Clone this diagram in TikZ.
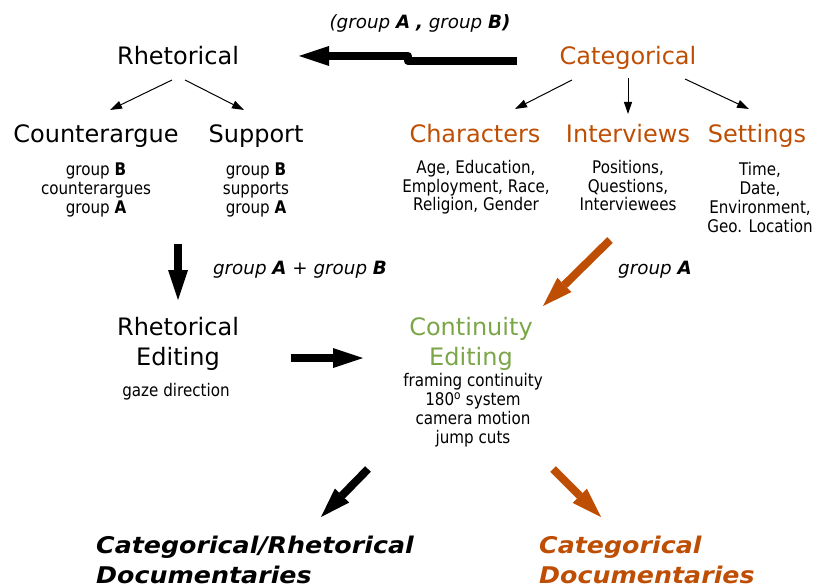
\documentclass[tikz,border=0pt]{standalone}
\usepackage{fontspec}
\setmainfont{DejaVu Sans}
\newfontfamily\smallf{DejaVu Sans}[FakeStretch=0.87]
\newfontfamily\finalf{DejaVu Sans}[FakeStretch=1.1]
\usetikzlibrary{arrows.meta}
\definecolor{orng}{RGB}{190,78,4}
\definecolor{grn}{RGB}{123,166,72}
\tikzset{
  head/.style={inner sep=0pt, anchor=base, align=center, font=\fontsize{24}{30}\selectfont},
  detail/.style={inner sep=0pt, anchor=base, align=center, font=\smallf\fontsize{17.4}{18.7}\selectfont},
  lbl/.style={inner sep=0pt, anchor=base, font=\itshape\fontsize{18.3}{20}\selectfont},
  final/.style={inner sep=0pt, anchor=base west, align=left, font=\finalf\bfseries\itshape\fontsize{23}{30}\selectfont},
  thin/.style={line width=1pt, -{Triangle[length=12pt,width=8pt]}},
  bigarrow/.style={line width=8pt, -{Triangle[length=30pt,width=20pt,line width=0pt]}},
}
\begin{document}
\begin{tikzpicture}[x=1pt,y=-1pt]
\useasboundingbox (0,0) rectangle (813,588);
% top level
\node[head] (rhet) at (178,65) {Rhetorical};
\node[head, text=orng] (cat) at (628,65) {Categorical};
\node[lbl] (toplbl) at (420,29) {(group \textbf{A} \textbf{,} group \textbf{B)}};
% second level
\node[head] (counter) at (96,143) {Counterargue};
\node[head] (support) at (256,143) {Support};
\node[head, text=orng] (chars) at (475,143) {Characters};
\node[head, text=orng] (inter) at (628,143) {Interviews};
\node[head, text=orng] (sett) at (757,143) {Settings};
% details (anchor = baseline of last line)
\node[detail] (counterd) at (96,213) {group \textbf{B}\\counterargues\\group \textbf{A}};
\node[detail] (supportd) at (256,213) {group \textbf{B}\\supports\\group \textbf{A}};
\node[detail] (charsd) at (476,211) {Age, Education,\\Employment, Race,\\Religion, Gender};
\node[detail] (interd) at (628,211) {Positions,\\Questions,\\Interviewees};
\node[detail] (settd) at (760,232) {Time,\\Date,\\Environment,\\Geo. Location};
% middle labels
\node[lbl] (lblab) at (300,274) {group \textbf{A} + group \textbf{B}};
\node[lbl] (lbla) at (655,274) {group \textbf{A}};
% editing
\node[head] (rhetedit) at (178,365) {Rhetorical\\Editing};
\node[head, text=grn] (contedit) at (471,365) {Continuity\\Editing};
\node[detail] (gaze) at (176,396) {gaze direction};
\node[detail] (contd) at (473,443) {framing continuity\\180\textsuperscript{o} system\\camera motion\\jump cuts};
% finals
\node[final] (catrhet) at (96,583) {Categorical/Rhetorical\\Documentaries};
\node[final, text=orng] (catdoc) at (539,583) {Categorical\\Documentaries};
% thin arrows
\coordinate (r1) at (172,80); \coordinate (r2) at (185,80);
\draw[thin] (r1) -- (110,110);
\draw[thin] (r2) -- (244,110);
\coordinate (c1) at (572,80); \coordinate (c2) at (628,78); \coordinate (c3) at (685,79);
\draw[thin] (c1) -- (515,109);
\draw[thin] (c2) -- (628,114);
\draw[thin] (c3) -- (749,109);
% big arrows
\coordinate (a1) at (517,61); \coordinate (a2) at (408,61); \coordinate (a3) at (408,56); \coordinate (a4) at (299,56);
\draw[bigarrow, line join=round] (a1) -- (a2) -- (a3) -- (a4);
\coordinate (d1) at (178,244); \coordinate (d2) at (178,300);
\draw[bigarrow] (d1) -- (d2);
\coordinate (h1) at (291,358); \coordinate (h2) at (363,358);
\draw[bigarrow] (h1) -- (h2);
\coordinate (o1) at (610,240); \coordinate (o2) at (543,306);
\draw[bigarrow, draw=orng, -{Triangle[length=30pt,width=20pt,line width=0pt,fill=orng]}] (o1) -- (o2);
\coordinate (b1) at (368,469); \coordinate (b2) at (321,517);
\draw[bigarrow] (b1) -- (b2);
\coordinate (p1) at (553,469); \coordinate (p2) at (601,517);
\draw[bigarrow, draw=orng, -{Triangle[length=30pt,width=20pt,line width=0pt,fill=orng]}] (p1) -- (p2);
\end{tikzpicture}
\end{document}
